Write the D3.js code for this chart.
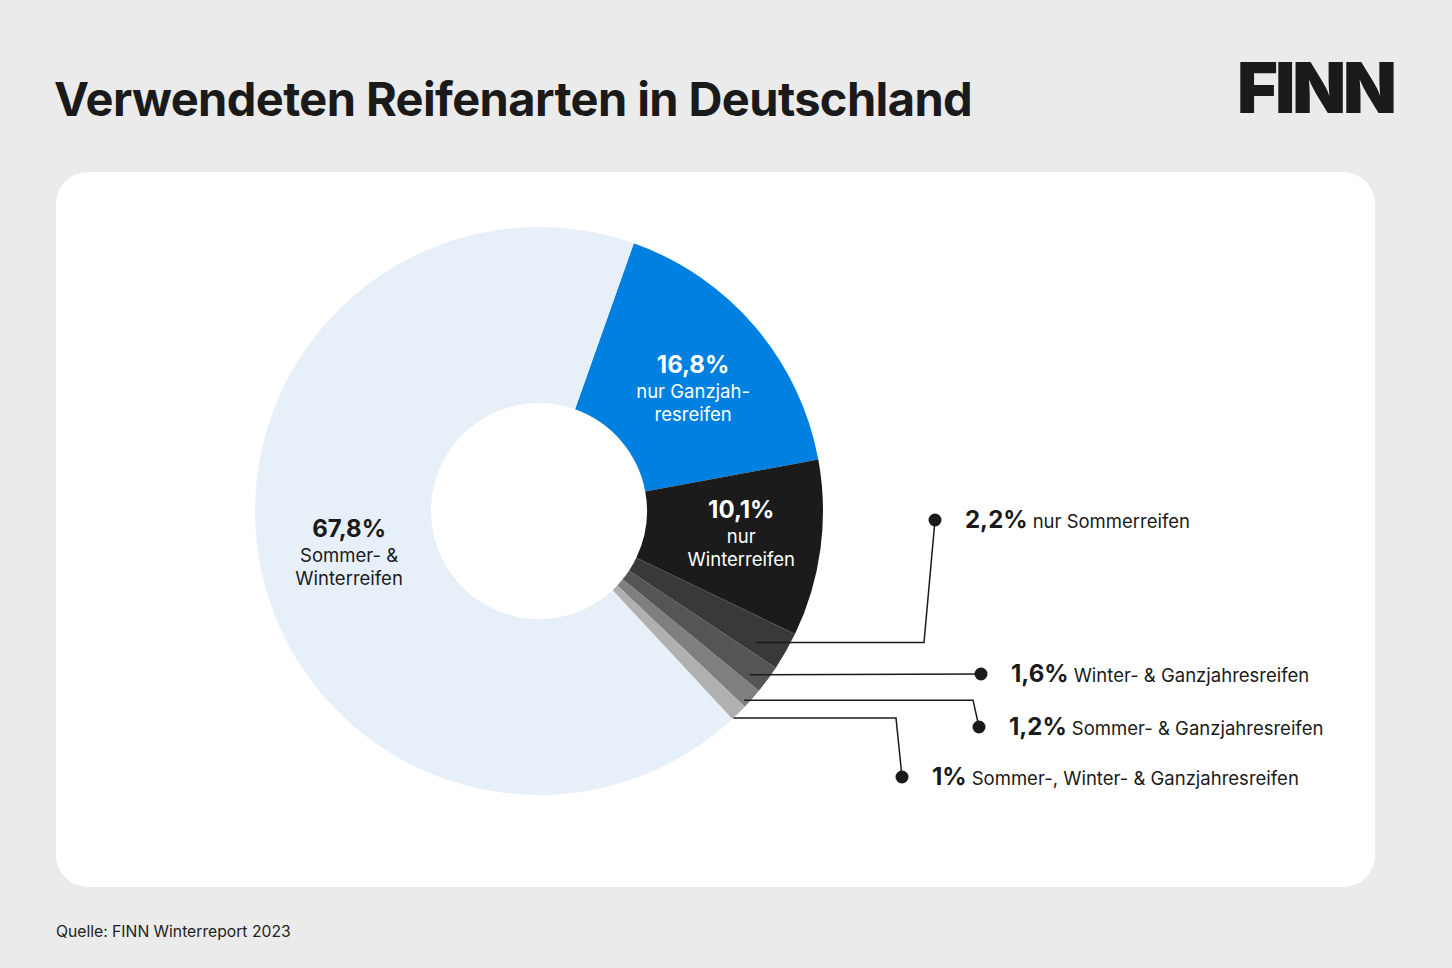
<!DOCTYPE html>
<html>
<head>
<meta charset="utf-8">
<script src="https://cdn.jsdelivr.net/npm/d3@7"></script>
<style>
  html, body { margin: 0; padding: 0; background: #ebebeb; }
  svg { display: block; font-family: Inter, "Noto Sans", sans-serif; }
</style>
</head>
<body>
<svg id="chart" width="1452" height="968"></svg>
<script>
// Reifenarten, Reihenfolge im Uhrzeigersinn ab dem blauen Segment
const categories = [
  "nur Ganzjahresreifen",
  "nur Winterreifen",
  "nur Sommerreifen",
  "Winter- & Ganzjahresreifen",
  "Sommer- & Ganzjahresreifen",
  "Sommer-, Winter- & Ganzjahresreifen",
  "Sommer- & Winterreifen"
];
const shares = [16.8, 10.1, 2.2, 1.6, 1.2, 1, 67.8];
// Zeilenumbruch der Beschriftungen im Ring (null = Beschriftung außen)
const innerLines = [
  ["nur Ganzjah-", "resreifen"],
  ["nur", "Winterreifen"],
  null, null, null, null,
  ["Sommer- &", "Winterreifen"]
];
const colors = ["#0081e2", "#1b1b1b", "#393939", "#555555", "#7f7f7f", "#b0b0b0", "#e7f0f8"];

const de = d3.formatLocale({ decimal: ",", thousands: ".", grouping: [3], currency: ["", " €"] });
const pct = v => de.format("~")(v) + "%";

const svg = d3.select('#chart');
const ink = '#1a1a1a';

// Titel + Logo
svg.append('text')
  .attr('x', 54).attr('y', 116)
  .attr('font-size', 47).attr('font-weight', 700)
  .attr('letter-spacing', -0.6)
  .attr('fill', ink)
  .text('Verwendeten Reifenarten in Deutschland');

svg.append('text')
  .attr('x', 1237).attr('y', 113)
  .attr('font-size', 70).attr('font-weight', 900)
  .attr('letter-spacing', -3)
  .attr('fill', ink)
  .text('FINN');

// Karte
svg.append('rect')
  .attr('x', 56).attr('y', 172)
  .attr('width', 1319).attr('height', 715)
  .attr('rx', 32)
  .attr('fill', '#ffffff');

svg.append('text')
  .attr('x', 56).attr('y', 937)
  .attr('font-size', 15.7)
  .attr('fill', '#222')
  .text('Quelle: FINN Winterreport 2023');

// Donut
const cx = 539, cy = 511;
const outerR = 284, innerR = 108;
const start = 19.5 * Math.PI / 180;

const pie = d3.pie().sort(null).value(d => d)
  .startAngle(start).endAngle(start + 2 * Math.PI);
const arcs = pie(shares);
const arc = d3.arc().innerRadius(innerR).outerRadius(outerR);

const g = svg.append('g').attr('transform', `translate(${cx},${cy})`);

g.selectAll('path.slice')
  .data(arcs)
  .enter()
  .append('path')
  .attr('class', 'slice')
  .attr('d', arc)
  .attr('fill', (d, i) => colors[i]);

// Beschriftungen im Ring (leicht verschoben gegenüber dem Schwerpunkt)
const nudge = { 0: [5, 3], 1: [8, -5], 6: [2, 0] };
arcs.forEach((d, i) => {
  if (!innerLines[i]) return;
  const [cx0, cy0] = arc.centroid(d);
  const x = cx0 + nudge[i][0];
  const y = cy0 + nudge[i][1];
  const light = i < 2;
  const t = g.append('text')
    .attr('text-anchor', 'middle')
    .attr('fill', light ? '#ffffff' : ink);
  t.append('tspan')
    .attr('x', x).attr('y', y - 14)
    .attr('font-size', 24).attr('font-weight', 700)
    .text(pct(shares[i]));
  innerLines[i].forEach((line, k) => {
    t.append('tspan')
      .attr('x', x).attr('y', y + 11 + k * 23)
      .attr('font-size', 18.5)
      .text(line);
  });
});

// Hinweislinien für die kleinen Segmente
const callouts = [
  { idx: 2, t: 0.70, r: 254, elbowX: 924, dotX: 935, dotY: 520 },
  { idx: 3, t: 0.75, r: 267, elbowX: null, dotX: 981, dotY: 674 },
  { idx: 4, t: 0.80, r: 279, elbowX: 973, dotX: 979, dotY: 727 },
  { idx: 5, t: 0.90, r: 284, elbowX: 896, dotX: 902, dotY: 777 }
];

callouts.forEach(c => {
  const d = arcs[c.idx];
  const a = d.startAngle + c.t * (d.endAngle - d.startAngle);
  const ax = cx + c.r * Math.sin(a);
  const ay = cy - c.r * Math.cos(a);
  const pts = [[ax, ay]];
  if (c.elbowX !== null) pts.push([c.elbowX, ay]);
  pts.push([c.dotX, c.dotY]);

  svg.append('path')
    .attr('d', d3.line()(pts))
    .attr('fill', 'none')
    .attr('stroke', ink)
    .attr('stroke-width', 1.5);

  svg.append('circle')
    .attr('cx', c.dotX).attr('cy', c.dotY)
    .attr('r', 6.5)
    .attr('fill', ink);

  const t = svg.append('text')
    .attr('x', c.dotX + 30).attr('y', c.dotY + 8)
    .attr('fill', ink);
  t.append('tspan')
    .attr('font-size', 24).attr('font-weight', 700)
    .text(pct(shares[c.idx]));
  t.append('tspan')
    .attr('dx', 5)
    .attr('font-size', 18.5)
    .text(categories[c.idx]);
});
</script>
</body>
</html>
